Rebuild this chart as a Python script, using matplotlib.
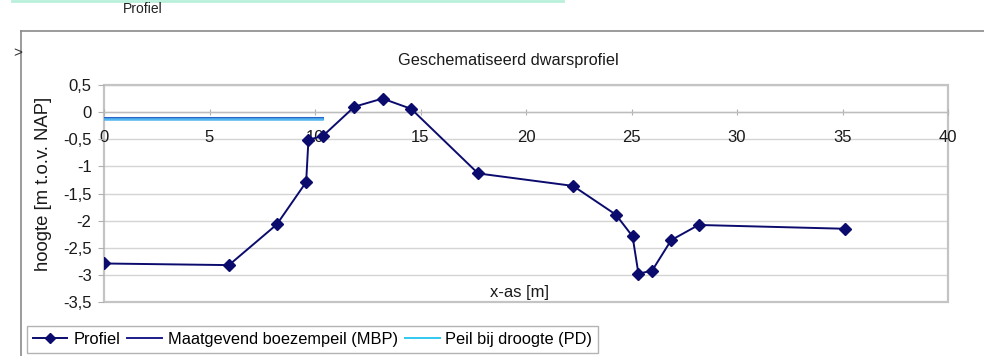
import matplotlib
matplotlib.use("Agg")
import matplotlib.pyplot as plt
from matplotlib.lines import Line2D
from matplotlib.patches import Rectangle
from matplotlib.ticker import FuncFormatter

plt.rcParams['font.family'] = ['Liberation Sans', 'DejaVu Sans']

# Cross-section profile (distance along x-as [m], height [m t.o.v. NAP])
profiel_x = [0.0, 5.92, 8.19, 9.58, 9.69, 10.37, 11.87, 13.2, 14.56,
             17.73, 22.23, 24.26, 25.05, 25.33, 25.98, 26.88, 28.18, 35.12]
profiel_y = [-2.79, -2.82, -2.07, -1.29, -0.51, -0.44, 0.10, 0.25, 0.06,
             -1.13, -1.36, -1.89, -2.29, -2.98, -2.92, -2.36, -2.08, -2.15]

# Water levels, drawn over the polder stretch
peil_x = [0.0, 10.35]
mbp_y = [-0.10, -0.10]
pd_y = [-0.125, -0.125]

x_ticks = [0, 5, 10, 15, 20, 25, 30, 35, 40]
y_ticks = [0.5, 0, -0.5, -1, -1.5, -2, -2.5, -3, -3.5]

W, H = 984, 356
fig = plt.figure(figsize=(W / 100, H / 100), dpi=100)
fig.patch.set_facecolor('white')

def fx(px):
    return px / W

def fy(py):
    return 1 - py / H

ax = fig.add_axes([fx(104), fy(302), fx(948) - fx(104), fy(85) - fy(302)])
ax.set_xlim(0, 40)
ax.set_ylim(-3.5, 0.5)

grid_c = '#d4d4d4'
frame_c = '#c4c4c4'
for yv in y_ticks:
    ax.axhline(yv, color=grid_c, lw=1.0, zorder=0)

for s in ('left', 'right', 'top'):
    ax.spines[s].set_visible(False)
ax.spines['bottom'].set_position(('data', 0))
ax.spines['bottom'].set_color('#bdbdbd')
ax.spines['bottom'].set_linewidth(1.0)
ax.add_patch(Rectangle((0, 0), 1, 1, transform=ax.transAxes, fill=False,
                       ec=frame_c, lw=1.6, clip_on=False, zorder=1))

comma = FuncFormatter(lambda v, p: ('%g' % v).replace('.', ','))
ax.set_xticks(x_ticks)
ax.set_yticks(y_ticks)
ax.xaxis.set_major_formatter(comma)
ax.yaxis.set_major_formatter(comma)
ax.tick_params(axis='x', direction='inout', length=5, width=0.8, color='#b0b0b0',
               labelsize=12, pad=10.5, labelcolor='#1a1a1a')
ax.tick_params(axis='y', direction='out', length=4, width=0.8, color='#b0b0b0',
               labelsize=12, pad=5, labelcolor='#1a1a1a')

ax.plot(peil_x, mbp_y, color='#2a64c8', lw=2.2, zorder=3,
        label='Maatgevend boezempeil (MBP)')
ax.plot(peil_x, pd_y, color='#52b6ee', lw=1.8, zorder=3,
        label='Peil bij droogte (PD)')
ax.plot(profiel_x, profiel_y, color='#0b0b6e', lw=1.4, marker='D', ms=6.3,
        mfc='#0b0b6e', mec='#0b0b6e', zorder=4, label='Profiel')

fig.text(fx(508), fy(60), 'Geschematiseerd dwarsprofiel', ha='center',
         va='center', fontsize=11.7, color='#1a1a1a')
fig.text(fx(44), fy(184), 'hoogte [m t.o.v. NAP]', rotation=90, ha='center',
         va='center', fontsize=13.3, color='#1a1a1a')
fig.text(fx(520), fy(293), 'x-as [m]', ha='center', va='center',
         fontsize=12, color='#1a1a1a')

# Outer chart frame
fig.add_artist(Line2D([fx(21), fx(21)], [fy(31), 0], color='#8a8a8a', lw=1.2))
fig.add_artist(Line2D([fx(21), 1], [fy(31), fy(31)], color='#8a8a8a', lw=1.2))
fig.text(fx(17.5), fy(53), '>', ha='center', va='center', fontsize=11,
         color='#333333')

# Header strip
fig.add_artist(Line2D([fx(12), fx(563)], [fy(0.8), fy(0.8)], color='#b8f0da', lw=2))
fig.text(fx(123), fy(9), 'Profiel', ha='left', va='center', fontsize=10,
         color='#222222')

handles = [
    Line2D([], [], color='#0b0b6e', lw=1.4, marker='D', ms=5.5, label='Profiel'),
    Line2D([], [], color='#1c1c8c', lw=1.4, label='Maatgevend boezempeil (MBP)'),
    Line2D([], [], color='#33c8ee', lw=1.4, label='Peil bij droogte (PD)'),
]
leg = fig.legend(handles=handles, loc='center left',
                 bbox_to_anchor=(fx(27), fy(339.5)), ncol=3, fontsize=11.8,
                 frameon=True, fancybox=False, edgecolor='#a0a0a0',
                 handlelength=2.1, handletextpad=0.36, columnspacing=0.45,
                 borderpad=0.36, borderaxespad=0)
leg.get_frame().set_linewidth(1.0)

fig.savefig('out.png', dpi=100)
